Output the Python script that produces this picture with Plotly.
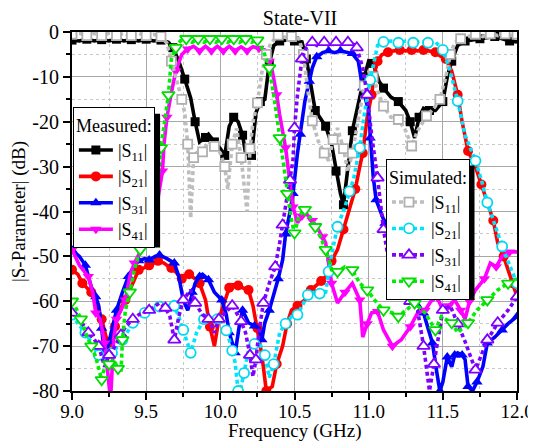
import plotly.graph_objects as go

# ---------------- data (frequency in GHz, magnitude in dB) ----------------
f_s11_meas = [9.00, 9.05, 9.10, 9.15, 9.20, 9.25, 9.30, 9.35, 9.40, 9.45, 9.50, 9.55, 9.60, 9.65, 9.68,
              9.72, 9.76, 9.80, 9.83, 9.86, 9.90, 9.92, 9.96, 10.00, 10.03, 10.06, 10.09, 10.12, 10.15,
              10.17, 10.21, 10.24, 10.27, 10.30, 10.33, 10.36, 10.40, 10.45, 10.50, 10.55, 10.58, 10.61,
              10.64, 10.68, 10.71, 10.75, 10.78, 10.81, 10.83, 10.86, 10.89, 10.93, 10.97, 11.00, 11.03,
              11.07, 11.10, 11.15, 11.20, 11.25, 11.28, 11.31, 11.34, 11.37, 11.41, 11.45, 11.50, 11.53,
              11.56, 11.60, 11.65, 11.70, 11.75, 11.80, 11.85, 11.90, 11.95, 12.00]
s11_meas = [-1.8, -2.0, -1.6, -2.0, -1.7, -2.0, -1.6, -2.0, -1.7, -2.0, -1.6, -2.0, -1.8, -2.3, -3.5,
            -6.5, -10.5, -14.7, -20.0, -24.5, -23.5, -22.8, -24.5, -26.0, -27.5, -21.0, -19.0, -20.0, -23.0,
            -27.0, -27.5, -18.0, -15.5, -15.0, -7.0, -3.0, -2.0, -1.8, -2.0, -2.2, -6.0, -12.0,
            -17.5, -19.5, -21.0, -25.0, -31.0, -36.0, -38.5, -30.0, -22.0, -16.0, -10.0, -6.5, -7.0,
            -11.0, -12.5, -14.5, -15.5, -17.5, -20.0, -23.6, -19.0, -17.0, -17.5, -17.5, -15.5, -10.0,
            -6.5, -3.0, -2.0, -1.8, -1.5, -1.2, -1.0, -1.5, -2.0, -2.2]

f_s21_meas = [9.00, 9.04, 9.07, 9.10, 9.13, 9.16, 9.20, 9.23, 9.25, 9.27, 9.29, 9.32, 9.36, 9.41, 9.45,
              9.49, 9.52, 9.55, 9.58, 9.62, 9.67, 9.70, 9.74, 9.77, 9.79, 9.83, 9.86, 9.90, 9.93, 9.96,
              9.99, 10.03, 10.06, 10.08, 10.12, 10.15, 10.19, 10.22, 10.25, 10.28, 10.31, 10.35, 10.38,
              10.42, 10.45, 10.48, 10.52, 10.57, 10.61, 10.64, 10.68, 10.71, 10.75, 10.79, 10.83, 10.87,
              10.91, 10.94, 10.96, 10.99, 11.02, 11.04, 11.06, 11.09, 11.13, 11.17, 11.21, 11.25, 11.29,
              11.33, 11.37, 11.41, 11.45, 11.48, 11.52, 11.56, 11.60, 11.63, 11.67, 11.72, 11.76, 11.80,
              11.84, 11.87, 11.91, 11.94, 11.97, 12.00]
s21_meas = [-53.0, -54.0, -56.0, -57.0, -58.0, -60.0, -64.0, -68.0, -70.0, -67.0, -65.6, -62.0, -59.7, -56.0, -53.0,
            -52.5, -52.0, -51.5, -51.0, -51.5, -52.6, -53.5, -55.0, -54.0, -54.0, -55.0, -56.0, -59.7, -65.7, -70.0,
            -64.0, -59.7, -57.0, -56.3, -56.5, -57.0, -57.5, -61.0, -66.0, -72.0, -80.0, -79.0, -74.0,
            -70.0, -65.0, -62.0, -61.0, -59.7, -57.5, -56.7, -55.5, -54.5, -51.0, -48.5, -44.0, -40.0,
            -35.0, -30.0, -27.0, -19.0, -14.0, -9.0, -6.5, -5.0, -4.5, -4.2, -4.0, -4.2, -4.0,
            -4.2, -4.0, -4.3, -4.5, -5.3, -6.0, -8.7, -14.0, -20.0, -26.5, -30.0, -34.0, -37.5,
            -42.0, -47.0, -50.0, -53.0, -56.0, -59.0]

f_s31_meas = [9.00, 9.05, 9.09, 9.13, 9.16, 9.18, 9.20, 9.22, 9.25, 9.27, 9.30, 9.34, 9.38, 9.42, 9.45,
              9.49, 9.52, 9.56, 9.59, 9.64, 9.69, 9.72, 9.75, 9.78, 9.81, 9.83, 9.86, 9.88, 9.92, 9.96,
              10.01, 10.04, 10.06, 10.08, 10.10, 10.13, 10.15, 10.19, 10.23, 10.26, 10.28, 10.30, 10.33,
              10.35, 10.39, 10.42, 10.44, 10.47, 10.49, 10.52, 10.54, 10.57, 10.60, 10.62, 10.65, 10.69,
              10.73, 10.77, 10.81, 10.85, 10.89, 10.93, 10.96, 11.00, 11.01, 11.03, 11.05, 11.08, 11.11,
              11.15, 11.18, 11.22, 11.25, 11.28, 11.31, 11.34, 11.37, 11.40, 11.43, 11.46, 11.48, 11.50,
              11.53, 11.56, 11.58, 11.60, 11.63, 11.65, 11.67, 11.70, 11.73, 11.77, 11.80, 11.85, 11.90,
              11.94, 12.00]
s31_meas = [-48.6, -50.0, -52.0, -56.8, -59.0, -61.0, -66.0, -72.4, -69.0, -66.4, -62.0, -58.0, -54.5, -52.0, -51.0,
            -50.5, -50.8, -50.0, -49.7, -50.5, -51.5, -54.5, -59.7, -62.0, -58.0, -56.0, -54.5, -54.0, -55.2, -58.0,
            -59.7, -63.0, -67.0, -69.0, -71.5, -65.0, -62.0, -64.8, -65.5, -66.0, -68.6, -64.8, -62.0,
            -59.7, -55.0, -50.8, -45.0, -40.0, -36.0, -27.0, -22.8, -15.4, -11.0, -8.0, -5.5, -4.6,
            -4.2, -4.6, -4.2, -4.5, -4.8, -6.5, -12.5, -17.6, -23.6, -32.0, -37.4, -40.0, -42.6,
            -45.0, -48.5, -51.0, -53.0, -56.0, -59.7, -61.0, -62.6, -66.0, -69.3, -76.0, -80.0, -78.0,
            -72.4, -74.6, -72.0, -71.5, -72.0, -73.0, -79.0, -80.0, -78.0, -74.6, -69.3, -68.0, -66.4,
            -65.0, -63.4]

f_s41_meas = [9.00, 9.05, 9.11, 9.14, 9.16, 9.19, 9.22, 9.24, 9.26, 9.28, 9.30, 9.33, 9.36, 9.39, 9.42,
              9.46, 9.49, 9.52, 9.55, 9.58, 9.61, 9.62, 9.64, 9.67, 9.70, 9.74, 9.78, 9.82, 9.86, 9.90,
              9.94, 9.98, 10.02, 10.06, 10.10, 10.14, 10.18, 10.22, 10.26, 10.30, 10.33, 10.35, 10.38,
              10.40, 10.44, 10.47, 10.49, 10.52, 10.55, 10.58, 10.62, 10.66, 10.69, 10.71, 10.75, 10.79,
              10.84, 10.89, 10.94, 10.96, 10.99, 11.02, 11.06, 11.10, 11.16, 11.22, 11.28, 11.33, 11.38,
              11.42, 11.46, 11.50, 11.54, 11.58, 11.62, 11.65, 11.68, 11.72, 11.78, 11.82, 11.86, 11.90,
              11.95, 12.00]
s41_meas = [-48.5, -52.0, -54.5, -58.0, -62.6, -64.0, -69.3, -75.0, -82.0, -69.0, -64.0, -62.0, -59.7, -54.5, -51.5,
            -49.0, -47.0, -42.0, -39.0, -37.0, -31.0, -25.0, -19.0, -13.5, -8.7, -5.0, -3.8, -3.2, -4.2, -3.2,
            -4.2, -3.2, -4.2, -3.2, -4.2, -3.3, -4.2, -3.3, -3.6, -4.0, -6.5, -8.7, -14.0,
            -18.5, -25.8, -34.0, -39.0, -42.5, -41.0, -40.5, -42.0, -44.0, -45.6, -47.0, -56.0, -60.4,
            -58.0, -56.0, -59.7, -68.0, -65.0, -62.6, -62.3, -66.4, -70.0, -68.6, -65.7, -62.6, -62.0,
            -60.0, -59.0, -62.0, -61.0, -59.7, -62.0, -64.0, -60.0, -57.5, -55.0, -51.5, -52.3, -50.0,
            -49.0, -49.0]

f_s11_sim = [9.00, 9.05, 9.10, 9.15, 9.20, 9.25, 9.30, 9.35, 9.40, 9.45, 9.50, 9.55, 9.60, 9.64, 9.67,
             9.71, 9.74, 9.76, 9.78, 9.80, 9.82, 9.85, 9.88, 9.92, 9.96, 10.00, 10.03, 10.05, 10.08,
             10.11, 10.14, 10.18, 10.20, 10.22, 10.25, 10.28, 10.31, 10.34, 10.39, 10.44, 10.48, 10.53,
             10.56, 10.59, 10.62, 10.66, 10.70, 10.73, 10.76, 10.79, 10.83, 10.86, 10.89, 10.93, 10.97,
             11.00, 11.03, 11.07, 11.10, 11.15, 11.20, 11.25, 11.29, 11.33, 11.39, 11.44, 11.48, 11.52,
             11.55, 11.58, 11.62, 11.67, 11.72, 11.77, 11.82, 11.87, 11.92, 11.96, 12.00]
s11_sim = [-0.5, -0.3, -0.8, -0.3, -0.8, -0.3, -0.8, -0.3, -0.8, -0.3, -0.8, -0.5, -1.0, -2.5, -6.5,
           -11.0, -15.0, -18.0, -25.0, -41.5, -28.0, -26.5, -26.7, -24.5, -25.5, -27.0, -30.0, -35.0, -25.0,
           -21.5, -28.0, -40.0, -26.0, -20.0, -15.8, -9.0, -5.0, -2.5, -0.7, -1.2, -1.0, -1.5,
           -5.0, -13.0, -19.8, -24.3, -27.0, -28.7, -24.0, -21.4, -26.0, -31.0, -27.0, -19.0, -12.0,
           -9.0, -10.0, -14.0, -16.5, -19.0, -19.5, -22.0, -25.4, -22.0, -18.7, -17.0, -15.0, -10.0,
           -5.0, -2.4, -1.5, -1.0, -0.5, -1.0, -0.4, -0.8, -0.4, -0.8, -0.5]

f_s21_sim = [9.00, 9.04, 9.09, 9.14, 9.18, 9.22, 9.27, 9.31, 9.34, 9.38, 9.41, 9.45, 9.49, 9.54, 9.59,
             9.64, 9.69, 9.72, 9.75, 9.78, 9.80, 9.84, 9.89, 9.94, 9.98, 10.01, 10.04, 10.06, 10.08,
             10.10, 10.12, 10.14, 10.16, 10.19, 10.23, 10.26, 10.30, 10.33, 10.36, 10.40, 10.44, 10.48,
             10.52, 10.57, 10.59, 10.63, 10.67, 10.71, 10.73, 10.76, 10.79, 10.84, 10.87, 10.90, 10.94,
             10.97, 11.01, 11.06, 11.10, 11.15, 11.20, 11.25, 11.30, 11.35, 11.40, 11.45, 11.50, 11.55,
             11.60, 11.65, 11.72, 11.76, 11.80, 11.85, 11.90, 11.95, 12.00]
s21_sim = [-63.0, -65.0, -67.0, -70.0, -72.0, -73.0, -71.5, -70.0, -68.6, -66.5, -64.8, -63.5, -62.6, -61.8, -61.2,
           -61.0, -61.0, -63.5, -66.4, -69.5, -71.5, -67.0, -64.0, -63.4, -64.0, -64.8, -66.5, -68.6, -71.0,
           -73.7, -80.0, -79.0, -76.0, -70.8, -69.5, -69.0, -72.0, -77.0, -74.0, -67.0, -65.0, -63.4,
           -63.0, -60.0, -58.6, -58.0, -58.3, -58.0, -53.4, -48.0, -43.4, -39.0, -35.5, -32.5, -25.8,
           -18.5, -10.7, -3.0, -2.2, -2.0, -2.4, -2.0, -2.4, -2.0, -2.4, -2.2, -4.0, -8.7,
           -15.4, -23.0, -28.7, -33.0, -38.0, -43.0, -47.8, -52.0, -56.0]

f_s31_sim = [9.00, 9.05, 9.11, 9.15, 9.18, 9.22, 9.25, 9.29, 9.33, 9.36, 9.41, 9.45, 9.52, 9.59, 9.63,
             9.66, 9.69, 9.72, 9.75, 9.80, 9.83, 9.88, 9.92, 9.96, 9.99, 10.03, 10.08, 10.10, 10.14,
             10.17, 10.20, 10.22, 10.24, 10.26, 10.29, 10.33, 10.37, 10.40, 10.42, 10.44, 10.47, 10.49,
             10.50, 10.52, 10.55, 10.58, 10.62, 10.66, 10.70, 10.74, 10.78, 10.82, 10.86, 10.90, 10.92,
             10.96, 10.99, 11.02, 11.06, 11.08, 11.10, 11.13, 11.18, 11.23, 11.28, 11.33, 11.37, 11.41,
             11.44, 11.47, 11.50, 11.55, 11.60, 11.65, 11.72, 11.76, 11.80, 11.84, 11.87, 11.94, 12.00]
s31_sim = [-62.6, -64.0, -67.0, -68.5, -70.0, -74.6, -72.0, -70.0, -67.5, -65.7, -64.0, -63.0, -62.0, -60.4, -61.5,
           -63.4, -68.6, -63.4, -59.7, -57.5, -60.4, -63.0, -64.0, -67.0, -64.0, -62.6, -61.0, -62.0, -64.5,
           -67.0, -72.0, -76.8, -73.0, -67.0, -60.4, -56.0, -52.3, -47.0, -43.0, -39.0, -33.0, -28.5,
           -21.4, -14.0, -6.0, -3.5, -2.3, -3.2, -2.3, -3.2, -2.3, -3.0, -2.3, -2.8, -3.5,
           -8.0, -14.0, -23.0, -32.5, -39.0, -44.0, -50.0, -54.0, -57.0, -60.0, -62.0, -70.0, -80.0,
           -74.0, -68.0, -62.0, -61.0, -65.0, -69.0, -75.3, -72.0, -68.6, -66.5, -64.8, -62.0, -59.0]

f_s41_sim = [9.00, 9.02, 9.06, 9.09, 9.13, 9.16, 9.20, 9.22, 9.25, 9.28, 9.31, 9.33, 9.34, 9.36, 9.39,
             9.42, 9.46, 9.50, 9.54, 9.57, 9.60, 9.62, 9.65, 9.67, 9.70, 9.73, 9.77, 9.81, 9.85, 9.89,
             9.93, 9.97, 10.01, 10.05, 10.09, 10.13, 10.17, 10.21, 10.25, 10.29, 10.33, 10.36, 10.40,
             10.43, 10.45, 10.48, 10.50, 10.53, 10.57, 10.60, 10.64, 10.68, 10.71, 10.75, 10.79, 10.84,
             10.89, 10.94, 10.99, 11.04, 11.10, 11.16, 11.20, 11.25, 11.31, 11.38, 11.45, 11.49, 11.56,
             11.60, 11.67, 11.73, 11.80, 11.87, 11.94, 12.00]
s41_sim = [-60.0, -61.0, -64.0, -67.0, -70.0, -72.4, -77.5, -74.6, -74.0, -73.0, -75.0, -76.0, -68.6, -62.0, -58.0,
           -53.0, -48.5, -44.0, -40.0, -36.0, -25.8, -21.4, -14.0, -6.0, -3.5, -2.0, -1.5, -2.3, -1.5, -2.3,
           -1.5, -2.3, -1.5, -2.3, -1.5, -2.3, -1.5, -2.3, -1.8, -4.2, -8.0, -14.0, -23.6,
           -31.0, -36.0, -42.0, -44.8, -41.0, -39.6, -41.0, -43.4, -46.0, -48.5, -53.0, -53.4, -52.3,
           -53.0, -56.0, -57.5, -59.7, -62.0, -62.6, -63.4, -62.0, -60.4, -62.6, -66.4, -63.4, -64.8,
           -67.0, -64.8, -62.0, -59.7, -57.5, -56.0, -55.0]

x_ticks = [9.0, 9.5, 10.0, 10.5, 11.0, 11.5, 12.0]
x_tick_labels = ["9.0", "9.5", "10.0", "10.5", "11.0", "11.5", "12.0"]
y_ticks = [0, -10, -20, -30, -40, -50, -60, -70, -80]
y_tick_labels = ["0", "-10", "-20", "-30", "-40", "-50", "-60", "-70", "-80"]

names = ["|S<sub>11</sub>|", "|S<sub>21</sub>|", "|S<sub>31</sub>|", "|S<sub>41</sub>|"]

FONT = "Liberation Serif"

# the page body adds an 8 px offset; the figure is sized to fill the rest of the window
PAGE_OFF = 8
FIG_W, FIG_H = 536 - PAGE_OFF, 444 - PAGE_OFF

fig = go.Figure()


def add_series(f, v, name, color, symbol, sim, legend, mfill, mline, msize):
    dash = "4px,3px" if sim else "solid"
    lw = 3.6
    marker = dict(symbol=symbol, size=msize, color=mfill,
                  line=dict(color=mline, width=1.8 if sim else 0))
    fig.add_trace(go.Scatter(x=f, y=v, mode="lines", line=dict(color=color, width=lw, dash=dash),
                             showlegend=False, hoverinfo="skip"))
    fig.add_trace(go.Scatter(x=f[::2], y=v[::2], mode="markers", marker=marker,
                             showlegend=False, hoverinfo="skip"))
    fig.add_trace(go.Scatter(x=[None], y=[None], mode="lines+markers", name=name,
                             line=dict(color=color, width=lw, dash=dash), marker=marker,
                             legend=legend, showlegend=True))


# measured
add_series(f_s11_meas, s11_meas, names[0], "#000000", "square", False, "legend", "#000000", "#000000", 9)
add_series(f_s21_meas, s21_meas, names[1], "#ff0000", "circle", False, "legend", "#ff0000", "#ff0000", 10)
add_series(f_s31_meas, s31_meas, names[2], "#0000ff", "triangle-up", False, "legend", "#0000ff", "#0000ff", 10)
add_series(f_s41_meas, s41_meas, names[3], "#ff00ff", "triangle-down", False, "legend", "#ff00ff", "#ff00ff", 10)
# simulated
add_series(f_s11_sim, s11_sim, names[0], "#bdbdbd", "square", True, "legend2", "#ffffff", "#b0b0b0", 9)
add_series(f_s21_sim, s21_sim, names[1], "#00e5ff", "circle", True, "legend2", "#ffffff", "#00d8f0", 10)
add_series(f_s31_sim, s31_sim, names[2], "#8000ff", "triangle-up", True, "legend2", "#ffffff", "#8000ff", 11)
add_series(f_s41_sim, s41_sim, names[3], "#00ee00", "triangle-down", True, "legend2", "#ffffff", "#00dd00", 11)

axis_common = dict(
    showline=True, linecolor="black", linewidth=2, mirror=True,
    ticks="outside", ticklen=7, tickwidth=1.5, tickcolor="black",
    showgrid=True, gridcolor="#a8a8a8", gridwidth=1, zeroline=False, automargin=False,
)

fig.update_layout(
    width=FIG_W, height=FIG_H,
    margin=dict(l=72 - PAGE_OFF, r=19, t=32 - PAGE_OFF, b=53, autoexpand=False),
    paper_bgcolor="white", plot_bgcolor="white",
    font=dict(family=FONT, size=20, color="black"),
    title=dict(text="State-VII", x=(300 - PAGE_OFF) / FIG_W, xanchor="center",
               y=1 - (18 - PAGE_OFF) / FIG_H, yanchor="middle",
               font=dict(family=FONT, size=20, color="black")),
    xaxis=dict(range=[9, 12], tickmode="array", tickvals=x_ticks, ticktext=x_tick_labels,
               tickfont=dict(family=FONT, size=19, color="black"), ticklabelstandoff=-5,
               minor=dict(tickmode="linear", tick0=9, dtick=0.25, showgrid=True, gridcolor="#c8c8c8",
                          griddash="dot", ticks="outside", ticklen=4, tickcolor="black"),
               **axis_common),
    yaxis=dict(range=[-80, 0], tickmode="array", tickvals=y_ticks, ticktext=y_tick_labels,
               tickfont=dict(family=FONT, size=20, color="black"),
               minor=dict(tickmode="linear", tick0=0, dtick=5, showgrid=True, gridcolor="#c8c8c8",
                          griddash="dot", ticks="outside", ticklen=4, tickcolor="black"),
               title=dict(text="|S-Parameter| (dB)", standoff=2, font=dict(family=FONT, size=19)),
               **axis_common),
    annotations=[
        dict(text="Frequency (GHz)", xref="paper", yref="paper", x=0.5, y=-53 / 359,
             xanchor="center", yanchor="bottom", showarrow=False,
             font=dict(family=FONT, size=19, color="black")),
    ],
    legend=dict(title=dict(text="Measured:", font=dict(family=FONT, size=18)),
                x=0.002, y=0.79, xanchor="left", yanchor="top",
                bgcolor="white", bordercolor="black", borderwidth=1,
                font=dict(family=FONT, size=18), itemwidth=34, tracegroupgap=0),
    legend2=dict(title=dict(text="Simulated:", font=dict(family=FONT, size=18)),
                 x=0.7056, y=0.645, xanchor="left", yanchor="top",
                 bgcolor="white", bordercolor="black", borderwidth=1,
                 font=dict(family=FONT, size=18), itemwidth=34, tracegroupgap=0),
    shapes=[
        dict(type="rect", xref="paper", yref="paper", x0=0.0157, x1=0.198, y0=0.40, y1=0.772,
             fillcolor="black", line=dict(width=0), layer="above"),
        dict(type="rect", xref="paper", yref="paper", x0=0.719, x1=0.9045, y0=0.2535, y1=0.628,
             fillcolor="black", line=dict(width=0), layer="above"),
    ],
)

fig.write_html("out.html")
